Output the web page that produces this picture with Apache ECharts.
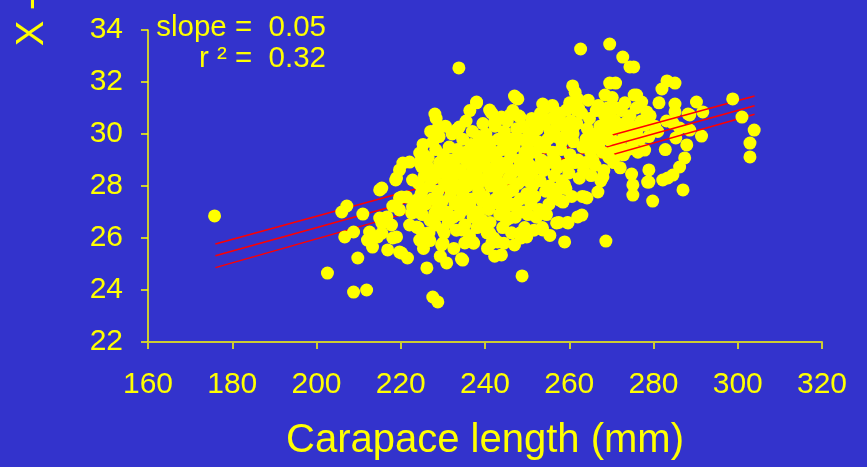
<!DOCTYPE html>
<html>
<head>
<meta charset="utf-8">
<title>Carapace length scatter</title>
<script src="https://cdn.jsdelivr.net/npm/echarts@6/dist/echarts.min.js"></script>
<style>
  html, body { margin: 0; padding: 0; background: #3333cc; }
  #chart { width: 867px; height: 467px; }
</style>
</head>
<body>
<div id="chart"></div>
<script>
// Carapace length (mm) against the measured trait, one point per animal.
const outliers = [
  [175.8,26.85],[202.6,24.65],[208.8,23.92],[211.9,24.0],[227.6,23.73],[228.8,23.54],
  [233.8,32.54],[248.8,24.54],[262.7,33.27],[269.6,33.46],[272.7,32.96],[275.3,32.58],
  [274.4,32.58],[268.7,25.88],[298.8,31.35],[301.0,30.65],[303.9,30.15],[302.9,29.65],[302.9,29.12]
];

const smallCrabs = [
  [206.0,27.0],[207.2,27.23],[211.0,26.92],[215.0,27.85],[206.7,26.04],[208.8,26.23],[209.8,25.23],
  [212.6,26.23],[212.1,25.92],[214.5,26.04],[213.3,25.65],[215.0,26.77],[215.5,26.58],[217.8,26.5],
  [219.0,26.04],[219.7,25.46],[222.1,26.5],[218.1,27.23],[219.7,27.54],[219.7,27.08],[218.8,28.23],
  [219.7,28.62],[222.8,28.23],[223.8,27.46],[221.4,27.58],[224.5,29.27],[222.6,26.96],[223.8,26.42],
  [220.5,28.88],[222.1,28.92],[219.0,28.31],[215.5,27.92],[220.2,27.58],[216.7,26.81],[215.5,26.19],
  [216.9,25.54],[220.2,25.42],[221.6,25.23],[218.1,26.0],[224.5,25.92],[222.8,27.19]
];

const midCrabs = [
  [224.2,28.1],[223.7,27.0],[224.5,28.9],[224.1,26.4],
  [225.3,29.6],[224.8,27.7],[225.6,28.4],[225.1,26.9],[225.4,25.6],
  [226.2,28.8],[225.9,27.3],[226.5,29.1],[226.7,26.2],
  [227.1,30.1],[226.8,28.0],[227.4,27.5],[227.2,26.7],[226.9,25.9],[227.6,28.6],
  [228.3,29.4],[227.9,28.3],[228.6,27.1],[228.2,26.5],[228.4,30.6],
  [229.2,28.9],[228.8,27.8],[229.5,26.9],[229.1,29.9],[229.4,25.3],[228.9,28.5],
  [230.1,29.2],[230.4,28.1],[229.8,27.4],[230.3,26.2],[230.6,30.3],[230.0,25.8],[230.7,28.7],
  [231.2,28.4],[230.9,27.0],[231.5,29.5],[231.3,26.6],[231.7,27.9],
  [232.0,29.0],[232.3,28.2],[231.8,27.6],[232.5,26.8],[232.2,30.0],[232.6,25.6],[232.8,28.7],
  [233.1,28.5],[232.9,27.3],[233.4,29.4],[233.2,26.3],[233.6,30.2],[233.7,27.9],
  [234.0,29.1],[234.3,28.0],[233.9,26.9],[234.5,27.5],[234.2,28.6],[234.4,25.2],[234.7,29.8],
  [235.1,28.3],[234.8,27.7],[235.4,29.3],[235.2,26.5],[235.5,30.5],[235.8,28.9],[235.0,27.1],
  [236.2,29.0],[236.0,28.4],[236.5,27.2],[236.3,26.1],[236.7,29.6],[235.9,28.0],[236.4,30.9],
  [237.1,28.7],[236.9,27.5],[237.4,29.4],[237.2,26.8],[237.6,28.1],[237.0,30.1],[237.3,25.8],
  [238.2,29.2],[237.9,28.5],[238.4,27.0],[238.1,26.4],[238.6,29.9],[238.0,31.2],[238.5,27.8],[238.3,28.9],
  [239.1,28.2],[239.4,27.4],[238.9,29.6],[239.2,26.7],[239.5,30.4],[239.7,28.8],
  [240.0,29.0],[240.3,28.3],[239.8,27.6],[240.5,26.2],[240.2,30.0],[240.6,25.6],[240.4,28.7],[239.9,29.4],
  [241.1,28.6],[240.9,27.1],[241.4,29.7],[241.2,26.6],[241.6,30.8],[241.3,28.0],[240.8,29.2],
  [242.2,29.3],[241.9,28.2],[242.5,27.5],[242.1,26.0],[242.4,30.3],[242.7,28.8],[242.3,25.3],
  [243.0,28.5],[243.3,27.8],[242.9,29.0],[243.5,26.9],[243.2,29.8],[243.6,30.6],[243.4,27.3],
  [244.1,29.4],[243.9,28.1],[244.4,27.0],[244.2,26.4],[244.6,30.1],[244.0,28.7],[244.5,25.8],
  [245.2,28.9],[244.9,27.6],[245.5,29.7],[245.1,26.7],[245.3,30.5],[245.7,28.3],[245.0,27.2],
  [246.1,29.2],[246.4,28.5],[245.9,27.8],[246.3,26.2],[246.6,30.9],[246.2,29.8],[246.7,27.3],
  [247.0,28.6],[247.3,27.2],[246.9,29.5],[247.5,30.2],[247.2,26.8],[247.4,31.4],
  [248.1,29.0],[247.9,28.1],[248.4,27.5],[248.2,29.8],[248.6,26.0],[248.0,30.7],[248.5,28.6],
  [249.2,28.4],[249.0,27.0],[249.5,29.3],[249.1,30.3],[249.4,26.4],[248.8,28.9],
  [250.1,29.6],[250.3,28.2],[249.9,27.7],[250.5,30.0],[250.2,26.9],[250.6,28.8],[250.0,29.1],
  [251.2,28.5],[250.9,27.3],[251.4,29.9],[251.1,30.6],[251.6,26.3],[251.3,28.0],
  [252.0,29.3],[252.3,28.7],[251.8,27.6],[252.5,30.2],[252.2,26.8],[252.6,29.7],
  [253.1,28.2],[252.9,27.1],[253.4,29.0],[253.2,30.8],[253.6,26.4],[253.0,29.6],
  [254.2,29.5],[253.9,28.6],[254.4,27.8],[254.1,30.4],[254.6,26.9],[254.3,31.0],
  [255.0,28.9],[255.3,28.0],[254.9,29.8],[255.5,30.1],[255.2,27.3],[255.4,26.1],
  [256.1,29.3],[256.4,28.4],[255.9,30.6],[256.2,27.6],[256.6,29.0],[256.0,31.1],
  [257.2,28.7],[256.9,29.9],[257.4,27.9],[257.1,30.3],[257.5,26.6],
  [258.0,29.4],[258.3,28.2],[257.8,30.8],[258.5,27.4],[258.2,29.7],
  [259.1,28.8],[258.9,29.9],[259.4,30.2],[259.2,27.9],[259.6,26.6],
  [260.2,29.2],[259.9,28.5],[260.4,30.5],[260.1,31.2],[260.6,27.6],
  [261.0,29.7],[261.3,28.9],[260.9,30.0],[261.4,31.6],
  [262.1,29.0],[261.8,30.4],[262.4,28.3],[262.2,31.0],
  [263.2,29.5],[262.9,30.8],[263.4,28.6],[263.1,27.6],
  [264.0,29.8],[264.3,30.2],[263.9,28.9],[264.5,31.3],
  [265.1,29.3],[264.8,30.6],[265.4,29.9],[265.2,28.4],
  [266.2,30.0],[265.9,29.5],[266.4,30.9],[266.1,28.8],
  [267.0,29.6],[267.3,30.3],[266.9,31.1],[267.5,28.2],
  [268.1,30.0],[267.9,29.3],[268.4,30.7],[268.2,28.6],[268.5,31.5],
  [269.2,29.8],[268.9,30.4],[269.4,29.1],[269.1,31.0],
  [238.0,31.23],[247.0,31.46],[247.8,31.35],[228.1,30.77],[228.8,30.23],[233.2,30.15],[233.9,30.27],
  [241.1,30.92],[242.3,30.46],[243.9,30.65],[245.9,30.73],[248.3,30.65],[249.0,30.27],[253.7,31.15],
  [256.1,31.04],[253.7,30.62],[251.8,30.35],[257.7,30.62],[259.3,30.92],[261.7,30.92],[259.3,30.27],
  [260.8,30.15],[227.6,29.69],[225.2,29.27],[225.0,28.73],[225.2,27.85],[225.2,27.35],[225.2,26.19],
  [226.2,24.85],[229.7,25.73],[230.9,25.04],[234.7,25.15],[235.2,25.81],[237.1,25.85],[241.1,26.19],
  [243.0,25.85],[243.9,25.35],[247.0,25.73],[248.3,26.19],[249.9,26.04],[245.9,26.77],[253.7,26.31],
  [257.0,26.58],[258.9,25.85],[262.0,26.81],[257.7,27.46],[258.9,28.04],[253.0,27.08],[250.6,27.54],
  [246.6,27.85],[245.1,27.38],[240.6,27.35],[238.0,26.81],[240.4,26.58],[234.5,26.31],[230.0,26.31],
  [228.1,26.96],[226.9,26.69],[241.6,25.81],[263.7,27.58],[265.6,29.0],[266.8,29.77],
  [260.8,31.85],[262.0,31.35],[266.8,31.04],[268.0,28.35],[266.8,27.77],[264.2,27.54],[263.0,26.88],
  [259.7,26.58],[258.5,28.0],[258.5,27.38],[269.6,31.96]
];

const largeCrabs = [
  [270.0,30.1],[270.3,29.5],[269.8,30.8],[270.5,28.9],[270.2,31.4],
  [271.1,29.7],[270.9,30.5],[271.4,29.2],[271.2,31.0],
  [272.2,30.2],[271.9,29.6],[272.4,30.9],[272.1,28.7],
  [273.0,29.9],[273.3,30.4],[272.9,29.2],[273.2,31.2],
  [274.1,30.0],[273.9,29.4],[274.4,30.7],
  [275.2,29.7],[274.9,30.3],[275.4,31.5],
  [276.0,30.1],[276.3,29.3],[275.9,31.0],
  [277.1,30.5],[276.8,29.8],[279.2,30.7],[278.9,29.9],[280.3,30.3],
  [281.0,30.1],[281.3,31.2],[283.1,30.5],[282.8,29.4],
  [279.8,27.42],[287.0,27.85],[278.9,28.15],[291.4,29.92],[290.2,31.23],[288.2,30.77],[285.1,31.15],
  [285.1,30.85],[283.2,32.04],[285.1,31.96],[282.0,31.73],[277.2,31.23],[284.6,30.42],[286.2,30.23],
  [288.6,30.15],[287.9,29.58],[287.4,29.08],[286.2,28.73],[284.6,28.42],[282.2,28.23],[283.4,28.31],
  [285.3,29.85],[288.6,30.73],[291.7,30.85],[277.9,30.35],[278.9,28.62],[277.9,29.38],[271.0,31.96],
  [276.0,31.5],[273.6,30.46],[278.4,30.85],[275.1,27.65],[275.1,28.04],[274.8,28.46],[278.6,28.15]
];

// Least-squares fit and its band, end points at the smallest and largest lengths.
const fitLine   = [[176, 25.32], [304, 31.09]];
const upperBand = [[176, 25.77], [304, 31.46]];
const lowerBand = [[176, 24.86], [304, 30.76]];

const xTicks = [160, 180, 200, 220, 240, 260, 280, 300, 320];
const yTicks = [22, 24, 26, 28, 30, 32, 34];

const statLines = ['slope =  0.05', 'r \u00b2 =  0.32'];

const FONT = '"Liberation Sans", Arial, Helvetica, sans-serif';
const YELLOW = '#ffff00';
const RED = '#ff0000';

const chart = echarts.init(document.getElementById('chart'), null, { renderer: 'canvas' });

const bandSeries = (data) => ({
  type: 'line',
  data: data,
  symbol: 'none',
  z: 3,
  silent: true,
  lineStyle: { color: RED, width: 1.5 },
  animation: false
});

chart.setOption({
  backgroundColor: '#3333cc',
  animation: false,
  grid: { left: 148, right: 45, top: 30, bottom: 125, containLabel: false },
  xAxis: {
    type: 'value',
    min: xTicks[0],
    max: xTicks[xTicks.length - 1],
    interval: xTicks[1] - xTicks[0],
    name: 'Carapace length (mm)',
    nameLocation: 'middle',
    nameGap: 79,
    nameTextStyle: { color: YELLOW, fontSize: 40, fontFamily: FONT },
    axisLine: { show: true, lineStyle: { color: '#cccc33', width: 2 } },
    axisTick: { show: true, inside: false, length: 7, lineStyle: { color: '#cccc33', width: 2 } },
    axisLabel: { color: YELLOW, fontSize: 30, fontFamily: FONT, margin: 28 },
    splitLine: { show: false }
  },
  yAxis: {
    type: 'value',
    min: yTicks[0],
    max: yTicks[yTicks.length - 1],
    interval: yTicks[1] - yTicks[0],
    axisLine: { show: true, lineStyle: { color: YELLOW, width: 1.5 } },
    axisTick: { show: true, inside: false, length: 7, lineStyle: { color: YELLOW, width: 1.5 } },
    axisLabel: { color: YELLOW, fontSize: 30, fontFamily: FONT, margin: 25 },
    splitLine: { show: false }
  },
  series: [
    {
      type: 'scatter',
      data: largeCrabs,
      symbol: 'circle',
      symbolSize: 13,
      z: 2,
      itemStyle: { color: YELLOW, opacity: 1 }
    },
    bandSeries(upperBand),
    bandSeries(fitLine),
    bandSeries(lowerBand),
    {
      type: 'scatter',
      data: outliers.concat(smallCrabs, midCrabs),
      symbol: 'circle',
      symbolSize: 13,
      z: 4,
      itemStyle: { color: YELLOW, opacity: 1 }
    }
  ],
  graphic: [
    {
      type: 'text',
      x: 326, y: 28,
      style: { text: statLines[0], align: 'right', verticalAlign: 'middle',
               fill: YELLOW, fontSize: 29.5, fontFamily: FONT }
    },
    {
      type: 'text',
      x: 326, y: 59,
      style: { text: statLines[1], align: 'right', verticalAlign: 'middle',
               fill: YELLOW, fontSize: 29.5, fontFamily: FONT }
    },
    {
      // vertical axis title, running upward and out of the frame
      type: 'text',
      x: 33, y: 46,
      rotation: Math.PI / 2,
      style: { text: 'X -', align: 'left', verticalAlign: 'middle',
               fill: YELLOW, fontSize: 38, fontFamily: FONT }
    }
  ]
});
</script>
</body>
</html>
